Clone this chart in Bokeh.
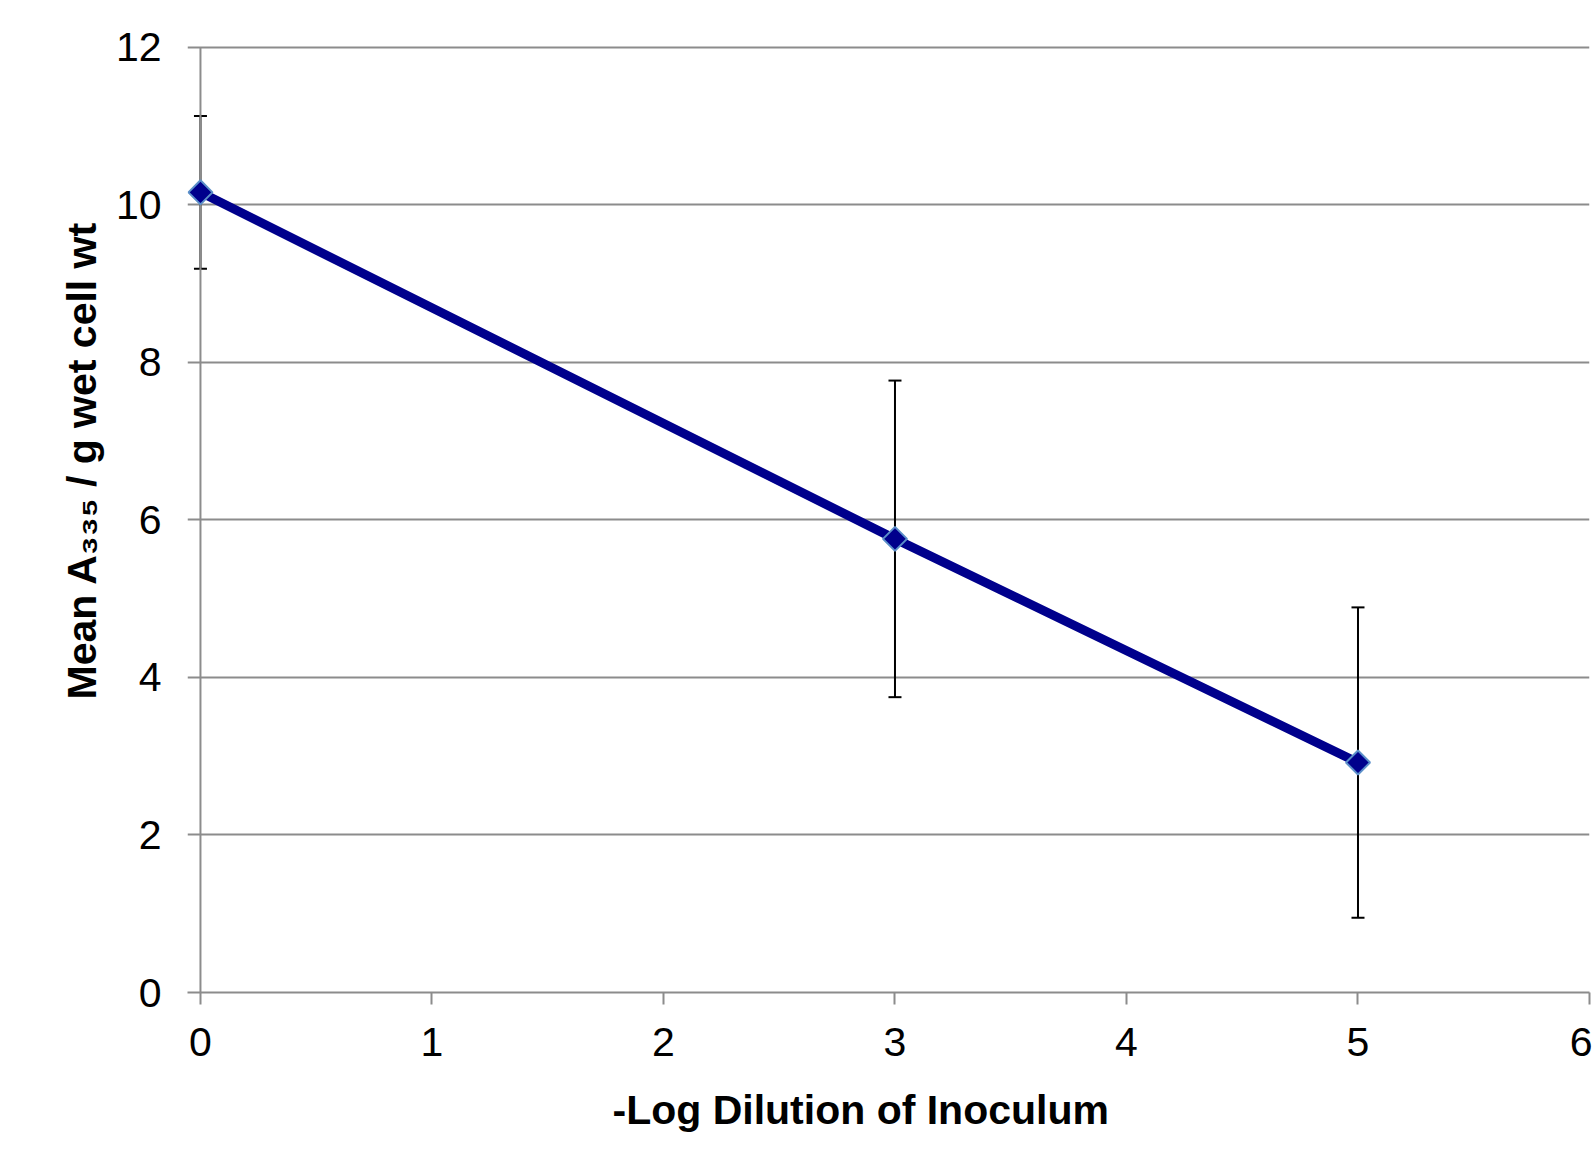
import math
from bokeh.plotting import figure
from bokeh.models import ColumnDataSource, Range1d, Whisker, TeeHead, Title, FixedTicker
from bokeh.embed import file_html
from bokeh.resources import INLINE

# data
dilution = [0, 3, 5]
mean_a335 = [10.16, 5.76, 2.92]
err = [0.97, 2.01, 1.97]
x_ticks = [0, 1, 2, 3, 4, 5, 6]
y_ticks = [0, 2, 4, 6, 8, 10, 12]
x_title = "-Log Dilution of Inoculum"
y_title = "Mean A\u2083\u2083\u2085 / g wet cell wt"

src = ColumnDataSource(dict(
    x=dilution, y=mean_a335,
    upper=[m + e for m, e in zip(mean_a335, err)],
    lower=[m - e for m, e in zip(mean_a335, err)],
))

p = figure(width=1592, height=1164, output_backend="svg", toolbar_location=None,
           x_range=Range1d(-0.056, 6), y_range=Range1d(0, 12.05),
           min_border_left=187, min_border_right=3, min_border_top=43, min_border_bottom=172)
p.outline_line_color = None
p.background_fill_color = "white"
p.border_fill_color = "white"

GRAY = "#8c8c8c"
for ax in (p.xaxis[0], p.yaxis[0]):
    ax.major_tick_line_color = GRAY
    ax.major_tick_line_width = 2
    ax.major_tick_in = 0
    ax.minor_tick_line_color = None
    ax.major_label_text_font = "Liberation Sans"
    ax.major_label_text_font_size = "41px"
    ax.major_label_text_color = "black"

p.xaxis.ticker = FixedTicker(ticks=x_ticks)
p.yaxis.ticker = FixedTicker(ticks=y_ticks)
p.xaxis.axis_line_color = GRAY
p.xaxis.axis_line_width = 2
p.xaxis.major_tick_out = 12
p.xaxis.major_label_standoff = 23
# y axis sits at x=0 inside the frame; the grid lines form its outward ticks
p.yaxis.axis_line_color = None
p.yaxis.major_tick_out = 0
p.yaxis.major_label_standoff = 26

p.xgrid.grid_line_color = None
p.ygrid.grid_line_color = GRAY
p.ygrid.grid_line_width = 2
p.ygrid.ticker = FixedTicker(ticks=y_ticks)

# vertical axis line at x = 0
p.segment(x0=[x_ticks[0]], y0=[y_ticks[0]], x1=[x_ticks[0]], y1=[y_ticks[-1]],
          line_color=GRAY, line_width=2)

whisk = Whisker(source=src, base="x", upper="upper", lower="lower",
                line_color="black", line_width=2,
                upper_head=TeeHead(size=13, line_color="black", line_width=2),
                lower_head=TeeHead(size=13, line_color="black", line_width=2))
p.add_layout(whisk)

p.line("x", "y", source=src, line_color="#00008c", line_width=9)
p.scatter("x", "y", source=src, marker="square", angle=math.pi / 4, size=17,
          fill_color="#00008c", line_color="#5b8fc9", line_width=2)

# axis titles
p.add_layout(Title(text=x_title, align="left", offset=425, standoff=57,
                   vertical_align="top",
                   text_font="Liberation Sans", text_font_style="bold",
                   text_font_size="41px", text_color="black"), "below")
p.add_layout(Title(text=y_title, align="left", offset=293, standoff=16,
                   text_font="Liberation Sans", text_font_style="bold",
                   text_font_size="41px", text_color="black"), "left")

open("out.html", "w").write(file_html(p, INLINE))
